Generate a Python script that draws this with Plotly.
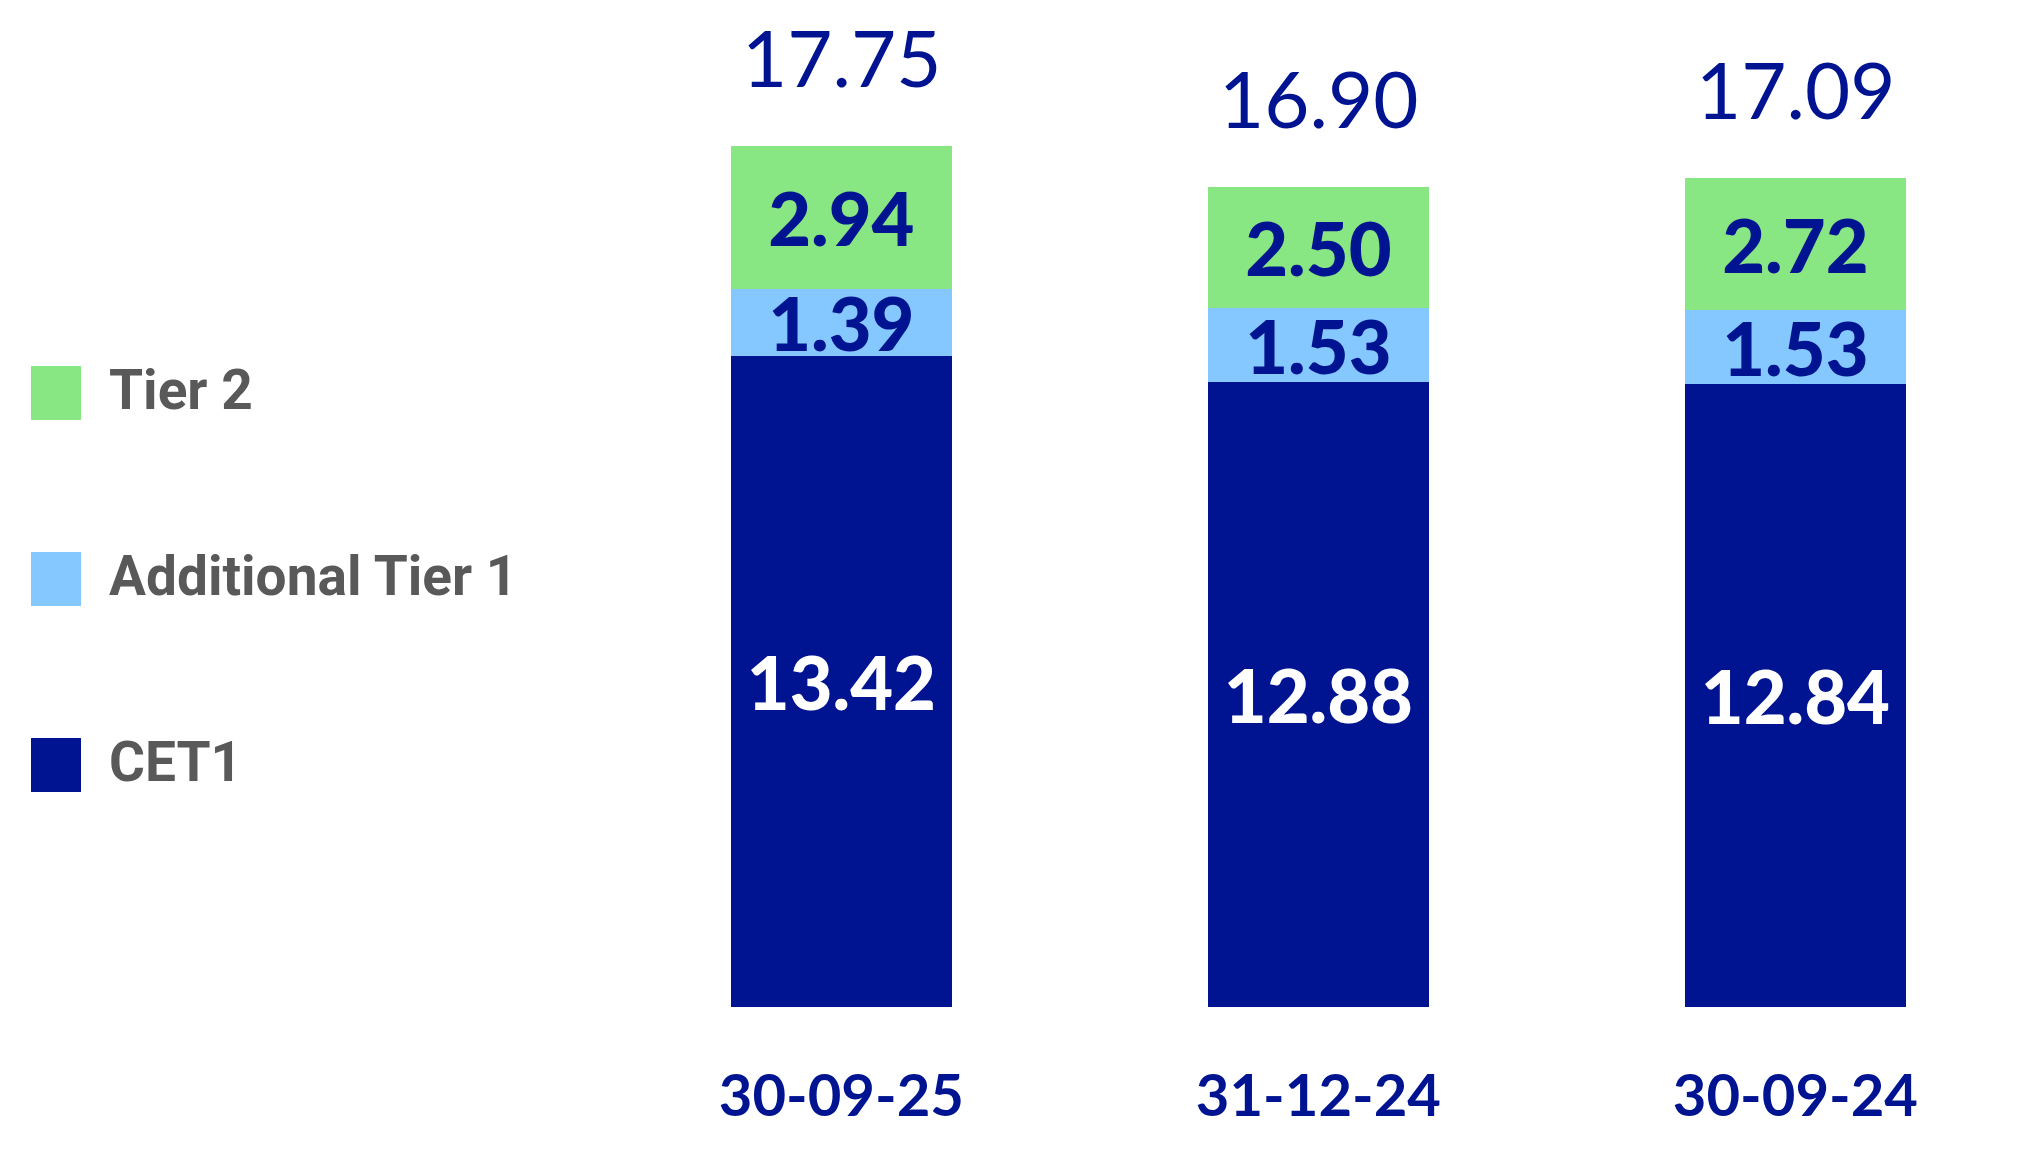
"""Capital ratios by date: stacked CET1 / AT1 / Tier 2."""
import plotly.graph_objects as go

dates = ["30-09-25", "31-12-24", "30-09-24"]
cet1 = [13.42, 12.88, 12.84]
at1 = [1.39, 1.53, 1.53]
tier2 = [2.94, 2.50, 2.72]
totals = [17.75, 16.90, 17.09]

NAVY = "#001391"
LIGHT_BLUE = "#85C8FF"
GREEN = "#88E783"
GREY = "#595959"
NUM_FONT = "Lato"

W, H = 2034, 1152
OFF = 8            # page body margin, figure starts at (8, 8)
PLOT_BOTTOM = 999  # figure pixel row of the baseline


def py(p):
    """page pixel row -> paper y"""
    return (PLOT_BOTTOM - (p - OFF)) / PLOT_BOTTOM


def px(p):
    """page pixel column -> paper x"""
    return (p - OFF) / W


fig = go.Figure()
series = [
    ("CET1", cet1, NAVY, "white"),
    ("Additional Tier 1", at1, LIGHT_BLUE, NAVY),
    ("Tier 2", tier2, GREEN, NAVY),
]
for name, vals, color, txtcolor in series:
    fig.add_trace(go.Bar(
        x=dates, y=vals, name=name,
        marker=dict(color=color, line=dict(width=0)),
        width=0.463,
        text=[f"{v:.2f}" for v in vals],
        textposition="inside",
        insidetextanchor="middle",
        constraintext="none",
        textfont=dict(family=NUM_FONT, size=74, color=txtcolor, weight=900),
        showlegend=False,
    ))

# totals above each bar
for d, t in zip(dates, totals):
    fig.add_annotation(
        x=d, y=t, text=f"{t:.2f}", showarrow=False,
        yanchor="bottom", yshift=40,
        font=dict(family=NUM_FONT, size=78, color=NAVY),
    )

# hand-made legend on the left (big squares)
legend_items = [("Tier 2", GREEN, 366, 420), ("Additional Tier 1", LIGHT_BLUE, 552, 606), ("CET1", NAVY, 738, 792)]
for label, color, top, bot in legend_items:
    fig.add_shape(
        type="rect", xref="paper", yref="paper",
        x0=px(31), x1=px(81), y0=py(bot), y1=py(top),
        fillcolor=color, line=dict(width=0),
    )
    fig.add_annotation(
        xref="paper", yref="paper", x=px(107), y=py((top + bot) / 2 - 3),
        xanchor="left", yanchor="middle", showarrow=False, text=label,
        font=dict(family="Roboto", size=55, color=GREY, weight="bold"),
    )

fig.update_layout(
    barmode="stack",
    width=W, height=H,
    margin=dict(l=0, r=0, t=0, b=H - PLOT_BOTTOM, autoexpand=False),
    paper_bgcolor="white", plot_bgcolor="white",
    showlegend=False,
)
fig.update_xaxes(
    type="category", automargin=False,
    range=[-1.747, 2.517], showgrid=False, zeroline=False, showline=False,
    ticks="", ticklabelstandoff=50,
    tickfont=dict(family=NUM_FONT, size=58, color=NAVY, weight="bold"),
)
fig.update_yaxes(range=[0, 20.6], visible=False, automargin=False)

fig.write_html("out.html")
